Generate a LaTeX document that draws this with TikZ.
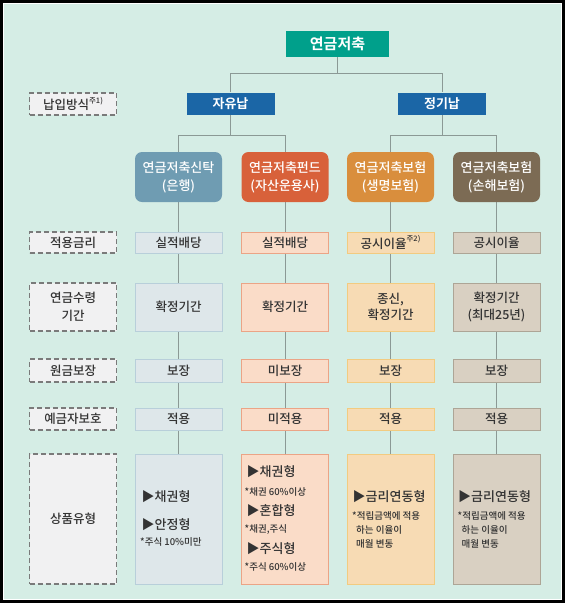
\documentclass[tikz,border=0pt]{standalone}
\usepackage{fontspec}
\setmainfont{Noto Sans CJK KR}[UprightFont={* Medium}, BoldFont={* Bold}]
\usetikzlibrary{backgrounds}
\pgfdeclarelayer{back}
\pgfsetlayers{back,background,main}
\definecolor{mint}{HTML}{D5EDE5}
\definecolor{teal}{HTML}{00A08B}
\definecolor{navy}{HTML}{1B66A6}
\definecolor{cA}{HTML}{6F9CB2}\definecolor{fA}{HTML}{DEE7EA}\definecolor{bA}{HTML}{B8CFDA}
\definecolor{cB}{HTML}{D8613A}\definecolor{fB}{HTML}{FADCC8}\definecolor{bB}{HTML}{EBA486}
\definecolor{cC}{HTML}{D98E3D}\definecolor{fC}{HTML}{F7DBB4}\definecolor{bC}{HTML}{F2CB80}
\definecolor{cD}{HTML}{7C6B54}\definecolor{fD}{HTML}{D9D0C2}\definecolor{bD}{HTML}{ADA596}
\definecolor{lblfill}{HTML}{F1F1F2}
\definecolor{lbldash}{HTML}{7A7A7A}
\definecolor{connc}{HTML}{8B9995}
\definecolor{txt}{HTML}{333333}
\newcommand{\fs}[2]{\fontsize{#1}{#2}\selectfont}
\newcommand{\supnote}[1]{\raisebox{0.5em}{\fs{7.5}{8}#1}}
\tikzset{
  x=1pt, y=-1pt,
  conn/.style={draw=connc, line width=0.9pt},
  topbox/.style={fill=teal, text=white, font=\bfseries\fs{15}{16}, minimum width=103, minimum height=26, inner sep=0},
  paybox/.style={fill=navy, text=white, font=\bfseries\fs{13}{14}, minimum width=88, minimum height=22, inner sep=0},
  lbl/.style={fill=lblfill, draw=lbldash, dash pattern=on 5pt off 3pt, line width=1.3pt, text=txt, font=\fs{12.5}{17.5}, minimum width=87, align=center, inner sep=0},
  cat/.style={fill=#1, rounded corners=7pt, text=white, font=\fs{13}{18}, minimum width=87, minimum height=50, align=center, inner sep=0},
  cell/.style n args={2}{fill=#1, draw=#2, line width=0.8pt, text=txt, font=\fs{12.5}{16.5}, minimum width=87, align=center, inner sep=0},
  item/.style={anchor=west, text=txt, font=\fs{13}{14}, inner sep=0},
  note/.style={anchor=west, text=txt, font=\fs{9.5}{10}, inner sep=0},
}
\begin{document}
\begin{tikzpicture}
\useasboundingbox (0,0) rectangle (567,606);
\begin{pgfonlayer}{back}
  \fill[white] (0,0) rectangle (567,606);
  \fill[black] (0,0) rectangle (565,603);
  \fill[white] (2.5,2.5) rectangle (562,600);
  \fill[mint] (3.5,3.5) rectangle (561,599);
\end{pgfonlayer}

% top levels
\node[topbox] (top) at (337.5,44) {연금저축};
\node[paybox] (free) at (230.5,103.5) {자유납};
\node[paybox] (reg) at (442,103.5) {정기납};
\node[lbl, minimum height=22] (Lpay) at (73,104) {납입방식\supnote{주1)}};

% categories
\node[cat=cA] (k1) at (178.5,177) {연금저축신탁\\(은행)};
\node[cat=cB] (k2) at (285,177) {연금저축펀드\\(자산운용사)};
\node[cat=cC] (k3) at (390.5,177) {연금저축보험\\(생명보험)};
\node[cat=cD] (k4) at (496.5,177) {연금저축보험\\(손해보험)};

% labels
\node[lbl, minimum height=21] (L1) at (73,242.5) {적용금리};
\node[lbl, minimum height=48] (L2) at (73,307) {연금수령\\기간};
\node[lbl, minimum height=23] (L3) at (73,370.5) {원금보장};
\node[lbl, minimum height=22] (L4) at (73,419) {예금자보호};
\node[lbl, minimum height=130] (L5) at (73,519) {상품유형};

% column 1
\node[cell={fA}{bA}, minimum height=21] (a1) at (178.5,242.5) {실적배당};
\node[cell={fA}{bA}, minimum height=48] (a2) at (178.5,307) {확정기간};
\node[cell={fA}{bA}, minimum height=23] (a3) at (178.5,370.5) {보장};
\node[cell={fA}{bA}, minimum height=22] (a4) at (178.5,419) {적용};
\node[cell={fA}{bA}, minimum height=130] (a5) at (178.5,519) {};
% column 2
\node[cell={fB}{bB}, minimum height=21] (b1) at (285,242.5) {실적배당};
\node[cell={fB}{bB}, minimum height=48] (b2) at (285,307) {확정기간};
\node[cell={fB}{bB}, minimum height=23] (b3) at (285,370.5) {미보장};
\node[cell={fB}{bB}, minimum height=22] (b4) at (285,419) {미적용};
\node[cell={fB}{bB}, minimum height=130] (b5) at (285,519) {};
% column 3
\node[cell={fC}{bC}, minimum height=21] (c1) at (390.5,242.5) {공시이율\supnote{주2)}};
\node[cell={fC}{bC}, minimum height=48] (c2) at (390.5,307) {종신,\\확정기간};
\node[cell={fC}{bC}, minimum height=23] (c3) at (390.5,370.5) {보장};
\node[cell={fC}{bC}, minimum height=22] (c4) at (390.5,419) {적용};
\node[cell={fC}{bC}, minimum height=130] (c5) at (390.5,519) {};
% column 4
\node[cell={fD}{bD}, minimum height=21] (d1) at (496.5,242.5) {공시이율};
\node[cell={fD}{bD}, minimum height=48] (d2) at (496.5,307) {확정기간\\(최대25년)};
\node[cell={fD}{bD}, minimum height=23] (d3) at (496.5,370.5) {보장};
\node[cell={fD}{bD}, minimum height=22] (d4) at (496.5,419) {적용};
\node[cell={fD}{bD}, minimum height=130] (d5) at (496.5,519) {};

% product types
\node[item] (a5i1) at (141.5,497) {▶채권형};
\node[item] (a5i2) at (141.5,525) {▶안정형};
\node[note] (a5n2) at (140,542) {*주식 10\%미만};

\node[item] (b5i1) at (246.5,472) {▶채권형};
\node[note] (b5n1) at (244.5,492) {*채권 60\%이상};
\node[item] (b5i2) at (246.5,511) {▶혼합형};
\node[note] (b5n2) at (244.5,529) {*채권,주식};
\node[item] (b5i3) at (246.5,549) {▶주식형};
\node[note] (b5n3) at (244.5,567) {*주식 60\%이상};

\node[item] (c5i1) at (352.5,497) {▶금리연동형};
\node[note] (c5n1) at (352,516) {*적립금액에 적용};
\node[note] (c5n2) at (356,530) {하는 이율이};
\node[note] (c5n3) at (356,544) {매월 변동};

\node[item] (d5i1) at (458,497) {▶금리연동형};
\node[note] (d5n1) at (457.5,516) {*적립금액에 적용};
\node[note] (d5n2) at (461.5,530) {하는 이율이};
\node[note] (d5n3) at (461.5,544) {매월 변동};

% connectors
\begin{pgfonlayer}{background}
  \draw[conn] (top.south) -- ++(0,16) -| (free.north);
  \draw[conn] (top.south) -- ++(0,16) -| (reg.north);
  \draw[conn] (free.south) -- ++(0,21) -| (k1.north);
  \draw[conn] (free.south) -- ++(0,21) -| (k2.north);
  \draw[conn] (reg.south) -- ++(0,21) -| (k3.north);
  \draw[conn] (reg.south) -- ++(0,21) -| (k4.north);
  \draw[conn] (k1.south) -- (a5.north);
  \draw[conn] (k2.south) -- (b5.north);
  \draw[conn] (k3.south) -- (c5.north);
  \draw[conn] (k4.south) -- (d5.north);
\end{pgfonlayer}
\end{tikzpicture}
\end{document}
